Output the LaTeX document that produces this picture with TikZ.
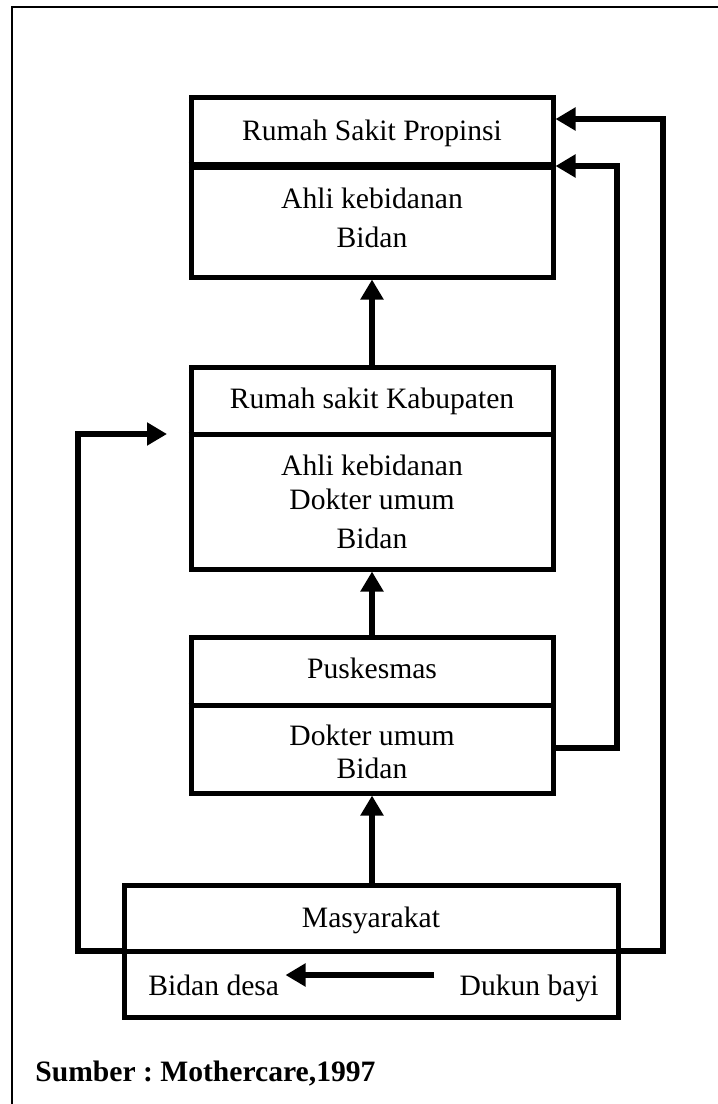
\documentclass[tikz,border=0pt]{standalone}
\usepackage{fontspec}
\setmainfont{Liberation Serif}
\usetikzlibrary{arrows.meta}
\frenchspacing
\tikzset{
  box/.style={draw, line width=2.5pt, rectangle, inner sep=0pt, minimum width=181pt},
  divline/.style={line width=2.5pt},
  thickdiv/.style={line width=4pt},
  conn/.style={line width=3pt},
  arr/.style={conn, -{Triangle[length=10pt,width=11pt]}},
  lbl/.style={anchor=base, inner sep=0pt, font=\fontsize{14.8}{17}\selectfont},
}
\begin{document}
\begin{tikzpicture}[x=0.5pt,y=-0.5pt]
\useasboundingbox (0,0) rectangle (718,1104);
% outer frame
\draw[line width=0.75pt] (12,1104) -- (12,7) -- (718,7);

% boxes
\node[box, minimum height=90pt] (b1) at (372,187) {};
\node[box, minimum height=101pt] (b2) at (372,468) {};
\node[box, minimum height=78pt] (b3) at (372,715) {};
\node[box, minimum width=247pt, minimum height=66pt] (b4) at (371,951) {};

% dividers
\draw[thickdiv] (b1.west |- 0,166) -- (b1.east |- 0,166);
\draw[divline] (b2.west |- 0,434) -- (b2.east |- 0,434);
\draw[divline] (b3.west |- 0,705) -- (b3.east |- 0,705);

% texts
\node[lbl] (t1) at (372,140) {Rumah Sakit Propinsi};
\node[lbl] (t1a) at (372,208) {Ahli kebidanan};
\node[lbl] (t1b) at (372,247) {Bidan};
\node[lbl] (t2) at (372,408) {Rumah sakit Kabupaten};
\node[lbl] (t2a) at (372,475) {Ahli kebidanan};
\node[lbl] (t2b) at (372,509) {Dokter umum};
\node[lbl] (t2c) at (372,548) {Bidan};
\node[lbl] (t3) at (372,678) {Puskesmas};
\node[lbl] (t3a) at (372,745) {Dokter umum};
\node[lbl] (t3b) at (372,778) {Bidan};
\node[lbl] (t4) at (371,927) {Masyarakat};
\node[lbl, anchor=base west] (bd) at (148,995) {Bidan desa};
\node[lbl, anchor=base east] (dk) at (599,995) {Dukun bayi};
\node[lbl, anchor=base west, font=\fontsize{14.8}{17}\selectfont\bfseries] (src) at (35,1081) {Sumber : Mothercare,1997};

% coordinates
\coordinate (rr1) at (663,951);
\coordinate (rr2) at (663,119);
\coordinate (ri0) at (553,748);
\coordinate (ri1) at (617,748);
\coordinate (ri2) at (617,166);
\coordinate (ll1) at (78,951);
\coordinate (ll2) at (78,434);
\coordinate (ltip) at (167,434);

% vertical arrows
\draw[arr] (b3.south |- b4.north) -- (b3.south);
\draw[arr] (b2.south |- b3.north) -- (b2.south);
\draw[arr] (b1.south |- b2.north) -- (b1.south);

% side connectors
\draw[divline] (b4.west |- 0,951) -- (b4.east |- 0,951);
\draw[arr] (b4.east |- 0,951) -- (rr1) -- (rr2) -- (b1.east |- rr2);
\draw[arr] (ri0) -- (ri1) -- (ri2) -- (b1.east |- ri2);
\draw[arr] (b4.west |- 0,951) -- (ll1) -- (ll2) -- (ltip);

% inner arrow
\draw[arr] ([shift={(-12.5pt,10pt)}]dk.base west) -- ([shift={(3pt,10pt)}]bd.base east);
\end{tikzpicture}
\end{document}
